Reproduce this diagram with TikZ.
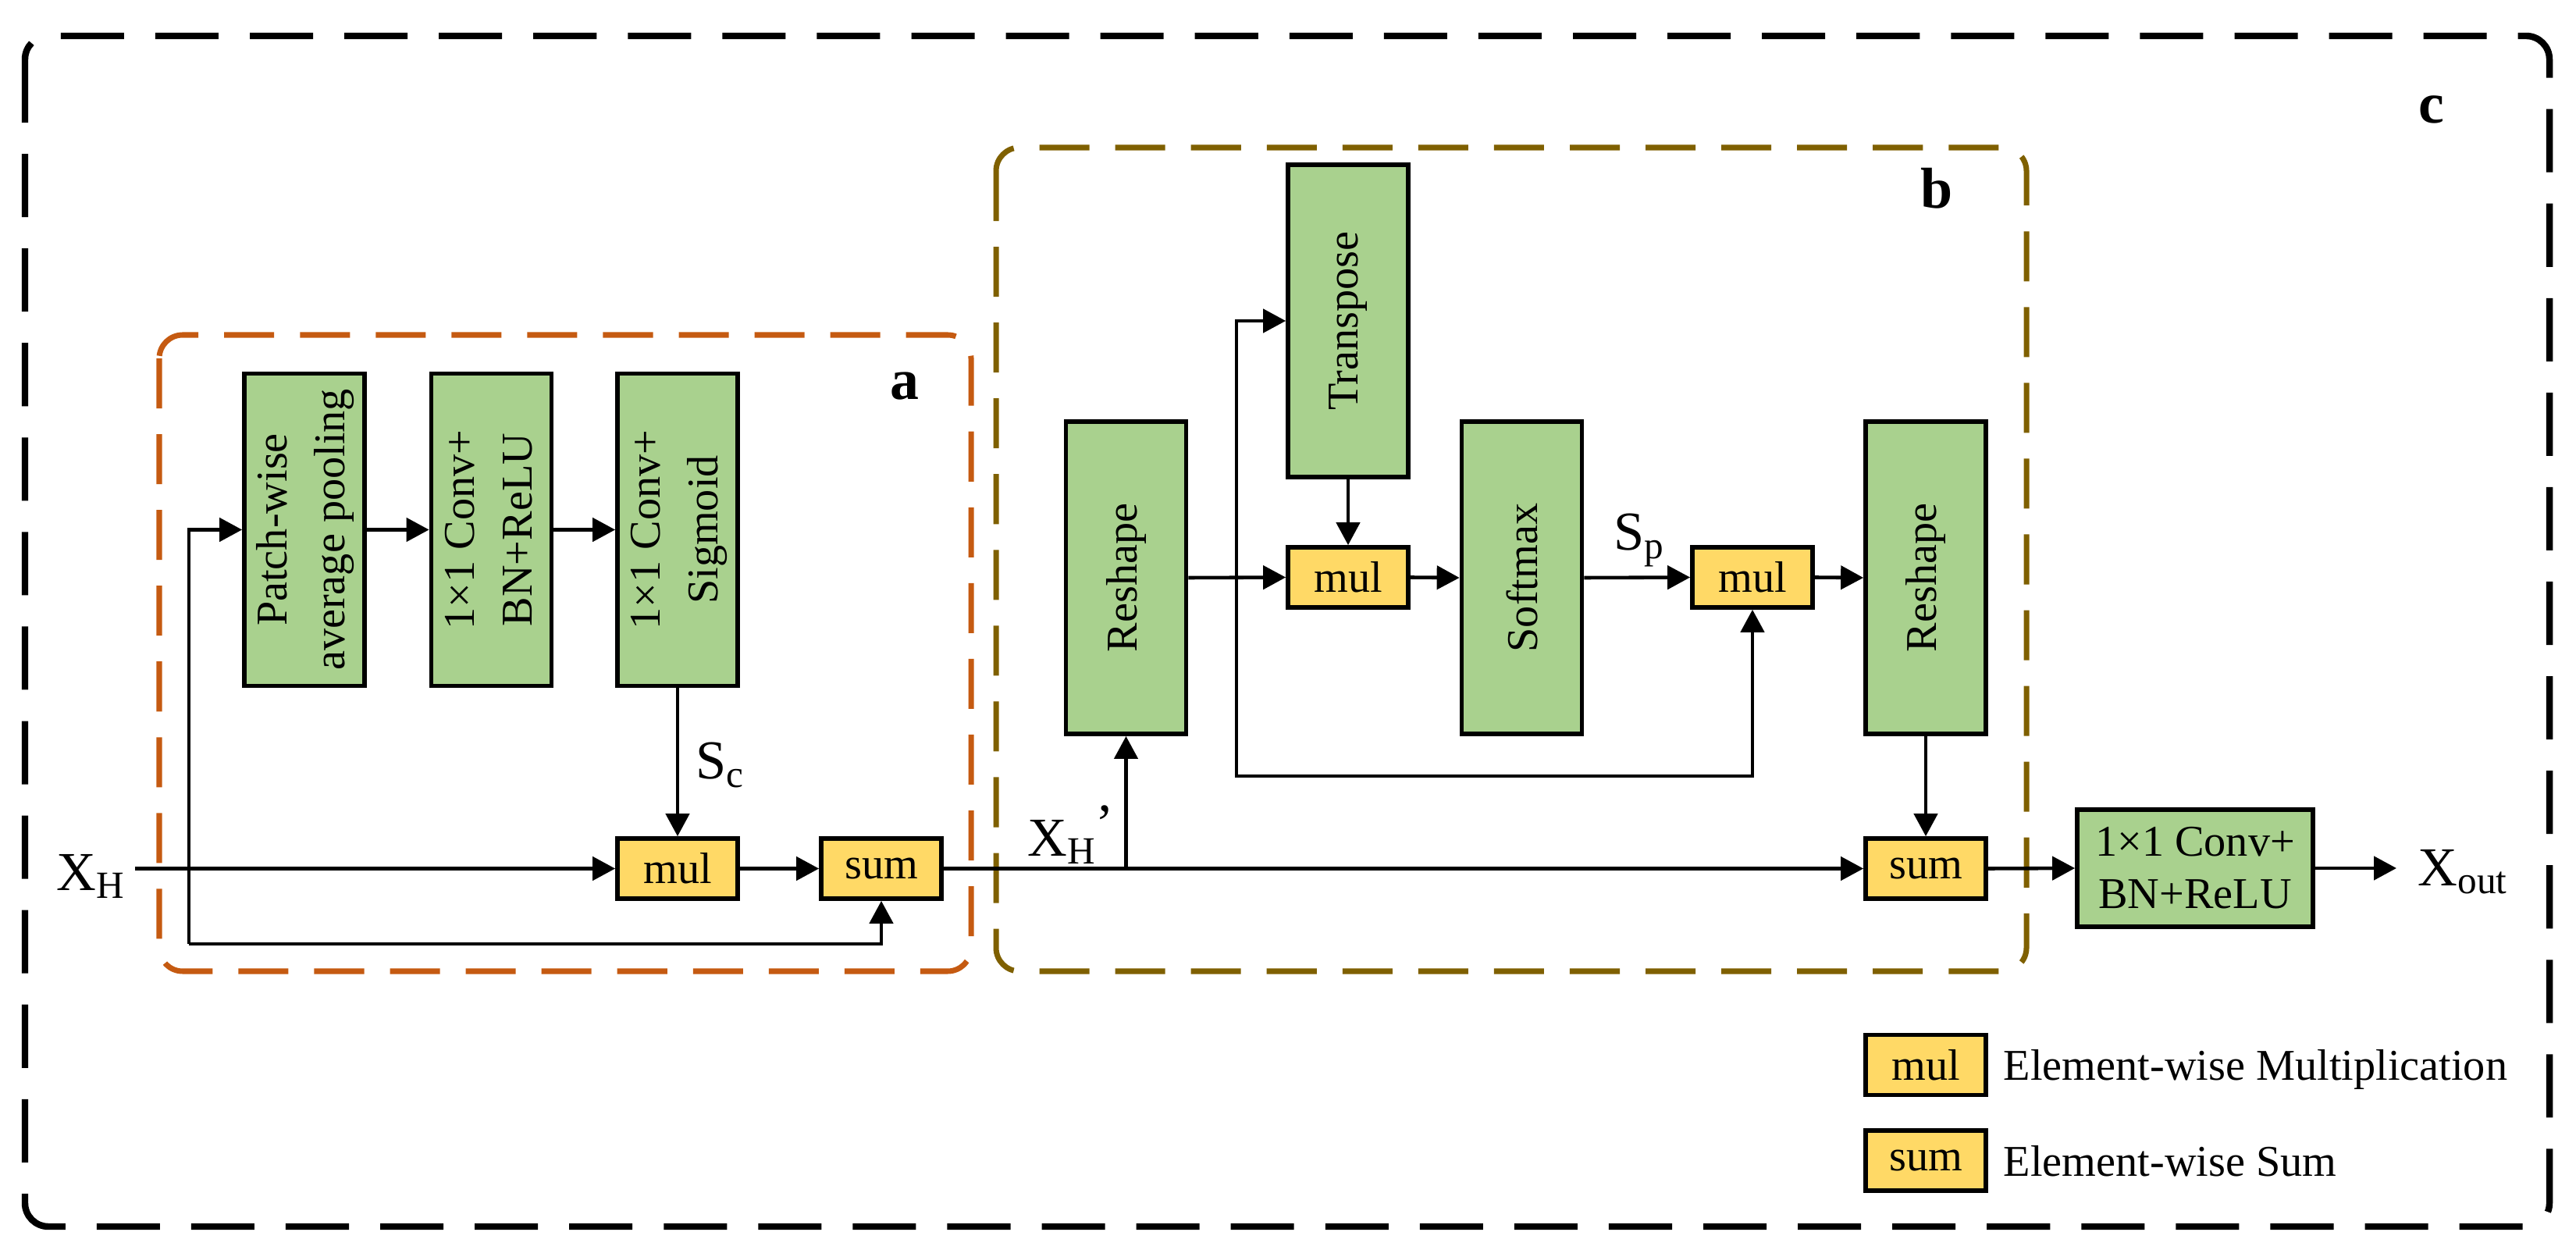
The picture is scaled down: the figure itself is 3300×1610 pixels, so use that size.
\documentclass[tikz,border=0pt]{standalone}
\usepackage{fontspec}
\setmainfont{Liberation Serif}
\usetikzlibrary{arrows.meta}
\definecolor{gfill}{HTML}{A9D18E}
\definecolor{yfill}{HTML}{FFD966}
\definecolor{orng}{HTML}{C55A11}
\definecolor{olivec}{HTML}{7F6000}
\newcommand{\lowsub}[1]{\raisebox{-3pt}{\fontsize{14}{14}\selectfont #1}}
\begin{document}
\begin{tikzpicture}[x=0.01cm,y=-0.01cm,
  gbox/.style={draw=black,line width=1.6pt,fill=gfill,minimum width=1.54cm,minimum height=4.0cm,inner sep=0pt,font=\fontsize{16}{21}\selectfont},
  ybox/.style={draw=black,line width=1.6pt,fill=yfill,minimum width=1.54cm,minimum height=0.77cm,inner sep=0pt,font=\fontsize{16}{19}\selectfont},
  arr/.style={line width=1.3pt,-{Triangle[length=0.29cm,width=0.3cm]}},
  ln/.style={line width=1.3pt},
  lbl/.style={font=\fontsize{20}{24}\selectfont,inner sep=0pt,anchor=base west},
  tag/.style={font=\fontsize{21}{24}\selectfont\bfseries,inner sep=0pt,anchor=base west},
  legt/.style={font=\fontsize{16}{19}\selectfont,inner sep=0pt,anchor=base west},
  outerbox/.style={draw=black,line width=2.4pt,dash pattern=on 0.81cm off 0.40cm,rounded corners=0.3cm},
  orbox/.style={draw=orng,line width=2pt,dash pattern=on 0.64cm off 0.33cm,rounded corners=0.3cm},
  olbox/.style={draw=olivec,line width=2pt,dash pattern=on 0.64cm off 0.33cm,rounded corners=0.3cm}]
\useasboundingbox (0,0) rectangle (3300,1610);

% containers
\draw[outerbox] (32,46) rectangle (3266,1571);
\draw[orbox] (204,429) rectangle (1244,1244);
\draw[olbox] (1276,189) rectangle (2596,1244);
\node[tag] (taga) at (1140,512) {a};
\node[tag] (tagb) at (2460,267) {b};
\node[tag] (tagc) at (3098,158) {c};

% part a
\node[gbox] (patch) at (390,678.5) {\rotatebox{90}{\begin{tabular}{@{}c@{}}Patch-wise\\average pooling\end{tabular}}};
\node[gbox] (conva) at (629.5,678.5) {\rotatebox{90}{\begin{tabular}{@{}c@{}}1×1 Conv+\\BN+ReLU\end{tabular}}};
\node[gbox] (sig) at (868,678.5) {\rotatebox{90}{\begin{tabular}{@{}c@{}}1×1 Conv+\\Sigmoid\end{tabular}}};
\node[ybox] (mula) at (868,1112.5) {mul};
\node[ybox] (suma) at (1129,1112.5) {sum};

\node[lbl] (xh) at (72,1140) {X\lowsub{H}};
\coordinate (xhs) at (173,1112.5);
\coordinate (skipb) at (242,1209);

\draw[arr] (xhs) -- (mula.west);
\draw[arr] (skipb) |- (patch.west);
\draw[arr] (skipb) -| (suma.south);
\draw[arr] (patch.east) -- (conva.west);
\draw[arr] (conva.east) -- (sig.west);
\draw[arr] (sig.south) -- (mula.north);
\node[lbl] (sc) at (891,998) {S\lowsub{c}};
\draw[arr] (mula.east) -- (suma.west);

% part b
\node[gbox] (resa) at (1442.5,740) {\rotatebox{90}{Reshape}};
\node[gbox] (trans) at (1727,411) {\rotatebox{90}{Transpose}};
\node[ybox] (mulb) at (1727,739.5) {mul};
\node[gbox] (soft) at (1949.5,740) {\rotatebox{90}{Softmax}};
\node[ybox] (mulc) at (2245,739.5) {mul};
\node[gbox] (resb) at (2467,740) {\rotatebox{90}{Reshape}};
\node[ybox] (sumb) at (2467,1112.5) {sum};
\node[gbox,minimum width=3.02cm,minimum height=1.50cm,align=center,font=\fontsize{16}{19}\selectfont] (convb) at (2812,1112) {1×1 Conv+\\BN+ReLU};

\coordinate (jn1) at (resa.south |- suma.east);
\coordinate (jn2) at (1584,739.5);
\coordinate (loopb) at (1584,994);
\coordinate (xout) at (3070,1112);

\draw[arr] (suma.east) -- (sumb.west);
\draw[arr] (jn1) -- (resa.south);
\node[lbl] (xhp) at (1316,1096) {X\lowsub{H}\raisebox{5pt}{’}};
\draw[arr] (resa.east) -- (mulb.west);
\draw[arr] (jn2) |- (trans.west);
\draw[arr] (jn2) -- (loopb) -| (mulc.south);
\draw[arr] (trans.south) -- (mulb.north);
\draw[arr] (mulb.east) -- (soft.west);
\draw[arr] (soft.east) -- (mulc.west);
\node[lbl] (sp) at (2067,705) {S\lowsub{p}};
\draw[arr] (mulc.east) -- (resb.west);
\draw[arr] (resb.south) -- (sumb.north);
\draw[arr] (sumb.east) -- (convb.west);
\draw[arr] (convb.east) -- (xout);
\node[lbl] (xo) at (3097,1134) {X\lowsub{out}};

% legend
\node[ybox] (legmul) at (2467,1364) {mul};
\node[ybox] (legsum) at (2467,1486.5) {sum};
\node[legt] (legmult) at (2566,1383) {Element-wise Multiplication};
\node[legt] (legsumt) at (2566,1506) {Element-wise Sum};
\end{tikzpicture}
\end{document}
